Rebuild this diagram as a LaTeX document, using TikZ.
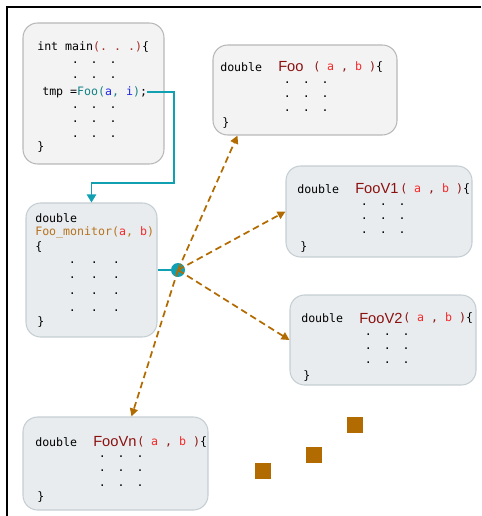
\documentclass[tikz,border=0pt]{standalone}
\usepackage{fontspec}
\setmonofont{DejaVu Sans Mono}
\setsansfont{Liberation Sans}
\usetikzlibrary{arrows.meta,fit,calc}
\definecolor{paper}{RGB}{243,243,243}
\definecolor{greyline}{RGB}{184,184,184}
\definecolor{bluepaper}{RGB}{232,236,238}
\definecolor{blueline}{RGB}{197,206,211}
\definecolor{linkteal}{RGB}{16,160,178}
\definecolor{callbrown}{RGB}{178,107,0}
\definecolor{namered}{RGB}{139,16,16}
\definecolor{argred}{RGB}{245,40,40}
\definecolor{dotsred}{RGB}{165,45,40}
\definecolor{callteal}{RGB}{20,130,135}
\definecolor{argblue}{RGB}{30,40,230}
\definecolor{monorange}{RGB}{184,115,30}
\newcommand{\dotrow}[1]{.\hspace{#1}.\hspace{#1}.}
\newcommand{\fname}[1]{{\sffamily\fontsize{11}{13}\selectfont\color{namered}#1}}
\newcommand{\fargs}{\textcolor{namered}{(} \textcolor{argred}{a} \textcolor{namered}{,} \textcolor{argred}{b} \textcolor{namered}{)}\{}
\begin{document}
\begin{tikzpicture}[x=0.75pt,y=-0.75pt]
\tikzstyle{codeline}=[font=\ttfamily\fontsize{8.7}{10}\selectfont, anchor=west, inner sep=0pt]
\tikzstyle{fnlabel}=[anchor=west, inner sep=0pt]
\tikzstyle{greybox}=[draw=greyline, fill=paper, rounded corners=11pt, line width=0.8pt, inner sep=0pt]
\tikzstyle{bluebox}=[draw=blueline, fill=bluepaper, rounded corners=11pt, line width=0.8pt, inner sep=0pt]
\tikzstyle{tealwire}=[draw=linkteal, line width=1.1pt]
\tikzstyle{callwire}=[draw=callbrown, line width=1.3pt, dash pattern=on 5pt off 3pt, -{Triangle[width=6pt,length=6pt]}]
\tikzstyle{stub}=[fill=callbrown, minimum size=12pt, inner sep=0pt]
\useasboundingbox (0,0) rectangle (481,516);
\draw[line width=1pt] (481,7) -- (7,7) -- (7,516);

\node (main) [greybox, fit={(23,23) (164,164)}] {};
\node (mhead) [codeline] at (37,47) {int main\textcolor{dotsred}{(. . .)}\{};
\node (md1) [codeline] at (71.5,63) {\dotrow{9pt}};
\node (md2) [codeline] at (71.5,78) {\dotrow{9pt}};
\node (tmp) [codeline] at (42,92) {tmp =\textcolor{callteal}{Foo(}\textcolor{argblue}{a}\textcolor{callteal}{,} \textcolor{argblue}{i}\textcolor{callteal}{)};};
\node (md3) [codeline] at (71.5,108) {\dotrow{9pt}};
\node (md4) [codeline] at (71.5,122) {\dotrow{9pt}};
\node (md5) [codeline] at (71.5,137) {\dotrow{9pt}};
\node (mend) [codeline] at (37,147) {\}};

\node (foo) [greybox, fit={(213,45) (397,135)}] {};
\node (fdbl) [codeline] at (220,67) {double};
\node (fnm) [fnlabel] at (278,67) {\fname{Foo}};
\node (farg) [codeline] at (313,67) {\fargs};
\node (fd1) [codeline] at (283.5,83) {\dotrow{9pt}};
\node (fd2) [codeline] at (283.5,97) {\dotrow{9pt}};
\node (fd3) [codeline] at (283.5,111) {\dotrow{9pt}};
\node (fend) [codeline] at (222,123) {\}};

\node (mon) [bluebox, fit={(26,203) (157,337)}] {};
\node (mdbl) [codeline] at (35,218) {double};
\node (mnm) [codeline] at (35,232) {\textcolor{monorange}{Foo\_monitor(}\textcolor{argred}{a}\textcolor{monorange}{,} \textcolor{argred}{b}\textcolor{monorange}{)}};
\node (mopen) [codeline] at (35,247) {\{};
\node (nd1) [codeline] at (68.5,263) {\dotrow{11.3pt}};
\node (nd2) [codeline] at (68.5,278) {\dotrow{11.3pt}};
\node (nd3) [codeline] at (68.5,294) {\dotrow{11.3pt}};
\node (nd4) [codeline] at (68.5,311) {\dotrow{11.3pt}};
\node (nend) [codeline] at (37,322) {\}};

\node (v1) [bluebox, fit={(286,166) (472,257)}] {};
\node (v1dbl) [codeline] at (297,189) {double};
\node (v1nm) [fnlabel] at (355,189) {\fname{FooV1}};
\node (v1arg) [codeline] at (400,189) {\fargs};
\node (v1d1) [codeline] at (360.5,205) {\dotrow{9pt}};
\node (v1d2) [codeline] at (360.5,219) {\dotrow{9pt}};
\node (v1d3) [codeline] at (360.5,233) {\dotrow{9pt}};
\node (v1end) [codeline] at (300,247) {\}};

\node (v2) [bluebox, fit={(290,295) (476,385)}] {};
\node (v2dbl) [codeline] at (301,318) {double};
\node (v2nm) [fnlabel] at (359,318) {\fname{FooV2}};
\node (v2arg) [codeline] at (403,318) {\fargs};
\node (v2d1) [codeline] at (364.5,335) {\dotrow{9pt}};
\node (v2d2) [codeline] at (364.5,349) {\dotrow{9pt}};
\node (v2d3) [codeline] at (364.5,363) {\dotrow{9pt}};
\node (v2end) [codeline] at (303,376) {\}};

\node (vn) [bluebox, fit={(23,417) (208,510)}] {};
\node (vndbl) [codeline] at (35,442) {double};
\node (vnnm) [fnlabel] at (93,442) {\fname{FooVn}};
\node (vnarg) [codeline] at (137,442) {\fargs};
\node (vnd1) [codeline] at (98.5,457) {\dotrow{9pt}};
\node (vnd2) [codeline] at (98.5,471) {\dotrow{9pt}};
\node (vnd3) [codeline] at (98.5,486) {\dotrow{9pt}};
\node (vnend) [codeline] at (37,497) {\}};

\coordinate (bend) at (174,183);
\draw[tealwire, -{Triangle[width=7pt,length=6pt]}] (tmp.east) -| (bend) -| (mon.north);
\node (hub) [circle, fill=linkteal, minimum size=10.5pt, inner sep=0pt] at (178,270) {};
\draw[tealwire] (mon.east) -- (hub);

\draw[callwire] (hub.center) -- ($(foo.south west)+(25,0)$);
\draw[callwire] (hub.center) -- (v1.west);
\draw[callwire] (hub.center) -- (v2.west);
\draw[callwire] (hub.center) -- ($(vn.north)+(16,0)$);

\node (sq1) [stub] at (263,471) {};
\node (sq2) [stub] at (314,455) {};
\node (sq3) [stub] at (355,425) {};
\end{tikzpicture}
\end{document}
